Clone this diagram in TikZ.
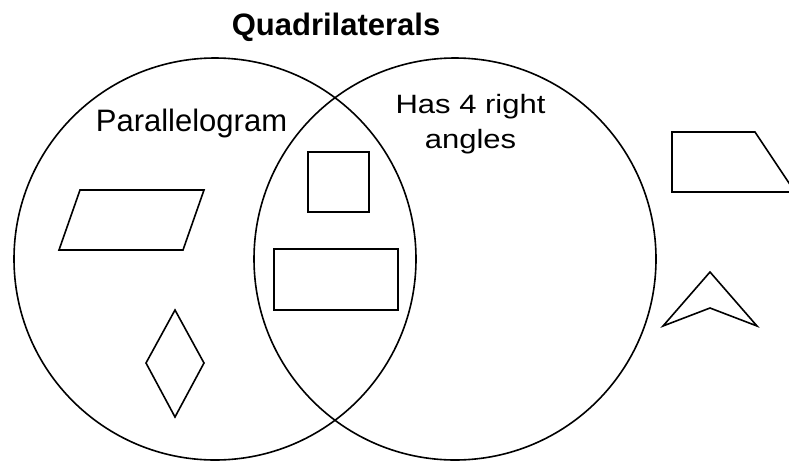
\documentclass[tikz,border=0pt]{standalone}
\usepackage{fontspec}
\setmainfont{Liberation Sans}
\newfontfamily\widesans[FakeStretch=1.17]{Liberation Sans}
\usetikzlibrary{positioning}

\begin{document}
\begin{tikzpicture}[
      x=1pt, y=-1pt,
      set/.style={draw=black, line width=1.6pt},
      figure/.style={draw=black, line width=1.6pt, line join=miter},
      heading/.style={inner sep=0pt, font=\fontsize{31}{36}\selectfont\bfseries},
      settext/.style={inner sep=0pt, font=\fontsize{31}{36}\selectfont},
      widetext/.style={inner sep=0pt, align=center,
                       font=\widesans\fontsize{26.5}{35}\selectfont}
    ]
    \clip (0,0) rectangle (789,461);

    % --- title and set labels ---
    \node[heading, anchor=base] (title) at (336,35) {Quadrilaterals};
    \node[settext, anchor=base] (parlabel) at (191.5,131) {Parallelogram};
    \node[widetext, anchor=north] (rightlabel) at (470.5,94.3) {Has 4 right\\angles};

    % --- the two sets ---
    \draw[set] (215,259) circle[radius=201];
    \draw[set] (455,259) circle[radius=201];

    % --- parallelograms only ---
    \draw[figure] (80,190) -- (204,190) -- (183,250) -- (59,250) -- cycle;
    \draw[figure] (175,310) -- (204,363) -- (175,417) -- (146,363) -- cycle;

    % --- both sets ---
    \draw[figure] (308,152) rectangle (369,212);
    \draw[figure] (274,249) rectangle (398,310);

    % --- outside ---
    \draw[figure] (672,132) -- (755,132) -- (795,192) -- (672,192) -- cycle;
    \draw[figure] (710,272) -- (757,326) -- (710,308) -- (663,326) -- cycle;
\end{tikzpicture}
\end{document}
